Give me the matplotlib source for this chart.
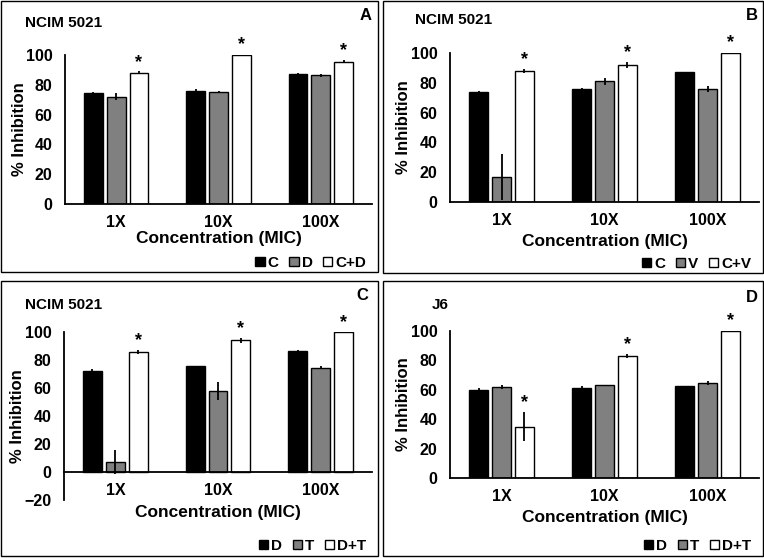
import matplotlib.pyplot as plt
import numpy as np
from matplotlib.patches import Patch, Rectangle

plt.rcParams['font.family'] = ['Liberation Sans', 'DejaVu Sans']
plt.rcParams['font.weight'] = 'bold'

categories = ['1X', '10X', '100X']

# panel A
a_series = ['C', 'D', 'C+D']
a_vals = [[74.5, 76, 87], [72, 75.5, 86.5], [88, 100, 95.5]]
a_errs = [[0.8, 1.2, 0.6], [2.5, 0.6, 1.0], [1.0, 1.0, 1.0]]

# panel B
b_series = ['C', 'V', 'C+V']
b_vals = [[74, 76, 87], [17, 81, 76], [88, 92, 100]]
b_errs = [[0.8, 0.6, 0.5], [15.5, 2.5, 2.0], [1.5, 2.0, 0.5]]

# panel C
c_series = ['D', 'T', 'D+T']
c_vals = [[72, 75.5, 86.5], [7, 58, 74.5], [86, 94, 100]]
c_errs = [[1.5, 0.4, 0.8], [8.5, 6.5, 1.0], [1.5, 2.0, 0.5]]

# panel D
d_series = ['D', 'T', 'D+T']
d_vals = [[60, 61.5, 62.5], [62, 63, 64.5], [35, 83, 100]]
d_errs = [[1.5, 0.8, 0.4], [1.5, 0.3, 1.5], [10, 1.5, 0.5]]

colors = ['black', '#808080', 'white']

W, H = 764, 558
fig = plt.figure(figsize=(W / 100, H / 100), dpi=100)


def px_axes(left, right, top, bottom):
    return fig.add_axes([left / W, 1 - bottom / H, (right - left) / W, (bottom - top) / H])


def draw_panel(ax, series, vals, errs, ylim, yticks, box, title, title_xy,
               letter, letter_xy, leg_xy, xlab_y):
    x = np.arange(len(categories))
    off = 0.223
    for i in range(3):
        ax.bar(x + (i - 1) * off, vals[i], width=0.185, color=colors[i],
               edgecolor='black', linewidth=1.0, zorder=2)
        ax.errorbar(x + (i - 1) * off, vals[i], yerr=errs[i], fmt='none',
                    ecolor='black', elinewidth=1.3, capsize=0, zorder=3)
    # asterisks on the combination bars
    for j in range(3):
        ax.text(x[j] + off, vals[2][j] + errs[2][j] + 0.5, '*', ha='center',
                va='bottom', fontsize=13, fontweight='bold', clip_on=False)
    ax.set_xlim(-0.5, 2.5)
    ax.set_ylim(*ylim)
    ax.set_yticks(yticks)
    ax.set_xticks(x)
    ax.set_xticklabels(categories)
    for s in ['top', 'right']:
        ax.spines[s].set_visible(False)
    ax.spines['bottom'].set_position(('data', 0))
    ax.spines['left'].set_linewidth(1.3)
    ax.spines['bottom'].set_linewidth(1.3)
    ax.tick_params(axis='y', length=0, pad=9, labelsize=11.5)
    ax.tick_params(axis='x', length=0, pad=8, labelsize=11.5)
    for lab in ax.get_xticklabels() + ax.get_yticklabels():
        lab.set_fontweight('bold')
    ax.set_ylabel('% Inhibition', fontsize=12, fontweight='bold')
    ax.yaxis.set_label_coords(-0.125, 0.5)
    ax.set_xlabel('Concentration (MIC)', fontsize=12.5, fontweight='bold')
    ax.xaxis.set_label_coords(0.5, xlab_y)
    ax.patch.set_alpha(0)

    # outer frame
    x0, y0, x1, y1 = box
    fig.add_artist(Rectangle((x0 / W, 1 - y1 / H), (x1 - x0) / W, (y1 - y0) / H,
                             transform=fig.transFigure, fill=False,
                             edgecolor='black', linewidth=1.0))
    fig.text(title_xy[0] / W, 1 - title_xy[1] / H, title, fontsize=11,
             fontweight='bold', ha='left', va='center')
    fig.text(letter_xy[0] / W, 1 - letter_xy[1] / H, letter, fontsize=12,
             fontweight='bold', ha='center', va='center')
    handles = [Patch(facecolor=c, edgecolor='black', linewidth=1.0) for c in colors]
    fig.legend(handles, series, loc='center right',
               bbox_to_anchor=(leg_xy[0] / W, 1 - leg_xy[1] / H), ncol=3,
               frameon=False, handlelength=0.6, handleheight=0.6,
               handletextpad=0.2, columnspacing=0.7, borderpad=0,
               prop={'size': 11, 'weight': 'bold'})


axA = px_axes(65, 372, 55, 204)
draw_panel(axA, a_series, a_vals, a_errs, (0, 100), range(0, 101, 20),
           (1, 1, 378, 272), 'NCIM 5021', (25, 23), 'A', (366, 16), (374, 263), -0.18)

axB = px_axes(450, 759, 53, 202)
draw_panel(axB, b_series, b_vals, b_errs, (0, 100), range(0, 101, 20),
           (383, 1, 763, 273), 'NCIM 5021', (415, 20), 'B', (752, 15), (759, 264), -0.215)

axC = px_axes(64, 372, 332, 500)
draw_panel(axC, c_series, c_vals, c_errs, (-20, 100), range(-20, 101, 20),
           (1, 281, 378, 556), 'NCIM 5021', (25, 305), 'C', (362, 295), (374, 546), -0.03)

axD = px_axes(450, 759, 331, 478)
draw_panel(axD, d_series, d_vals, d_errs, (0, 100), range(0, 101, 20),
           (383, 281, 763, 556), 'J6', (432, 305), 'D', (752, 297), (759, 546), -0.215)

fig.savefig('out.png', dpi=100, facecolor='white')
